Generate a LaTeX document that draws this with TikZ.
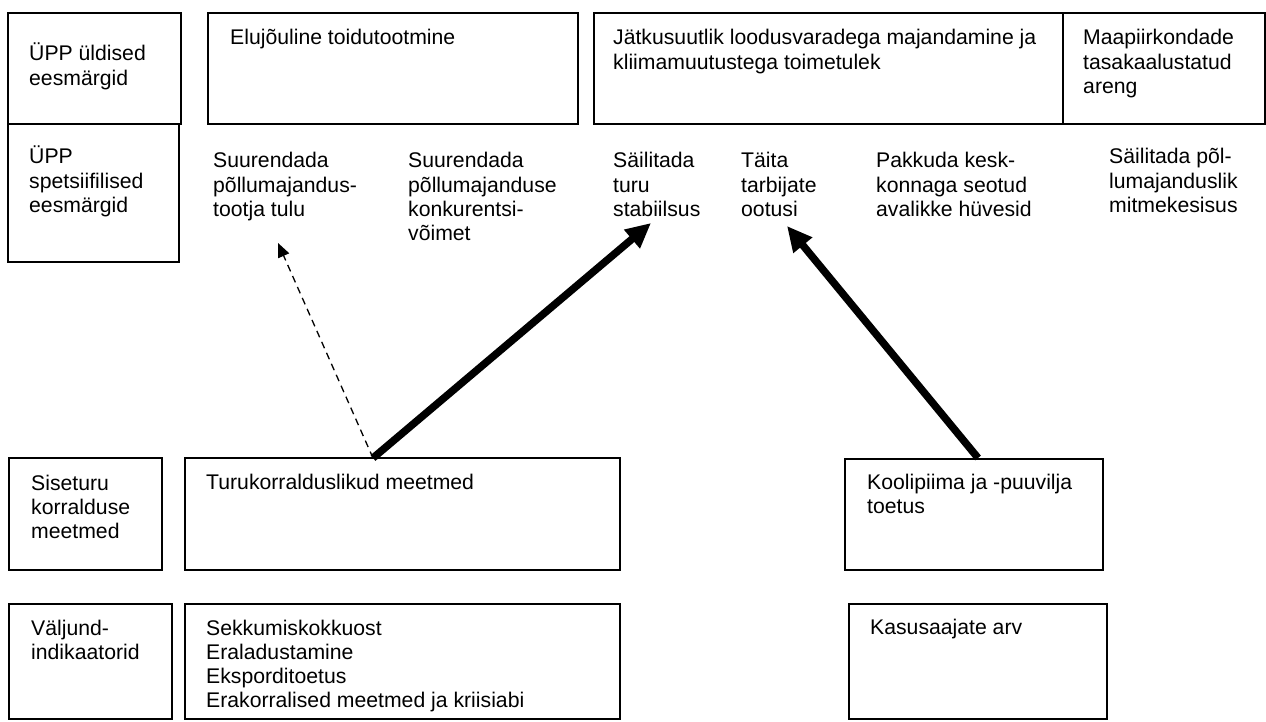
\documentclass[tikz,border=0pt]{standalone}
\usepackage{fontspec}
\setmainfont{Liberation Sans}
\usetikzlibrary{arrows.meta}
\newcommand{\txtlines}[1]{\vtop{\halign{##\hfil\cr#1\crcr}}}
\begin{document}
\begin{tikzpicture}[x=1pt,y=-1pt,
  boxst/.style={draw,line width=1.3pt,inner sep=0pt},
  lbl/.style={anchor=base west,inner sep=0pt,font=\fontsize{21.2}{24.3}\selectfont},
  dasharrow/.style={line width=1.3pt,dash pattern=on 7pt off 5pt,-{Triangle[length=14pt,width=12pt]}},
  thickarrow/.style={line width=7.5pt,-{Triangle[length=25pt,width=23pt]}}]
\useasboundingbox (0,0) rectangle (1266,722);
% boxes
\path[boxst] (8,13) rectangle (181,124) node[pos=0,inner sep=0pt] (A1) {};
\path[boxst] (8,124) rectangle (179,262) node[pos=0,inner sep=0pt] (A2) {};
\path[boxst] (208,13) rectangle (578,124) node[pos=0,inner sep=0pt] (B1) {};
\path[boxst] (594,13) rectangle (1063,124) node[pos=0,inner sep=0pt] (B2) {};
\path[boxst] (1063,13) rectangle (1265,124) node[pos=0,inner sep=0pt] (B3) {};
\path[boxst] (9,458) rectangle (162,570) node[pos=0,inner sep=0pt] (C1) {};
\path[boxst] (185,458) rectangle (620,570) node[pos=0,inner sep=0pt] (C2) {};
\path[boxst] (845,459) rectangle (1103,570) node[pos=0,inner sep=0pt] (C3) {};
\path[boxst] (9,604) rectangle (172,719) node[pos=0,inner sep=0pt] (D1) {};
\path[boxst] (185,604) rectangle (620,719) node[pos=0,inner sep=0pt] (D2) {};
\path[boxst] (849,604) rectangle (1107,719) node[pos=0,inner sep=0pt] (D3) {};
% texts
\node[lbl] (tA1) at (29,61) {\txtlines{ÜPP üldised\cr eesmärgid}};
\node[lbl] (tA2) at (29,164) {\txtlines{ÜPP\cr spetsiifilised\cr eesmärgid}};
\node[lbl] (tB1) at (230,45) {\txtlines{Elujõuline toidutootmine}};
\node[lbl] (tB2) at (613,45) {\txtlines{Jätkusuutlik loodusvaradega majandamine ja\cr kliimamuutustega toimetulek}};
\node[lbl] (tB3) at (1083,45) {\txtlines{Maapiirkondade\cr tasakaalustatud\cr areng}};
\node[lbl] (S1) at (213,168) {\txtlines{Suurendada\cr põllumajandus-\cr tootja tulu}};
\node[lbl] (S2) at (408,168) {\txtlines{Suurendada\cr põllumajanduse\cr konkurentsi-\cr võimet}};
\node[lbl] (S3) at (613,168) {\txtlines{Säilitada\cr turu\cr stabiilsus}};
\node[lbl] (S4) at (741,168) {\txtlines{Täita\cr tarbijate\cr ootusi}};
\node[lbl] (S5) at (876,168) {\txtlines{Pakkuda kesk-\cr konnaga seotud\cr avalikke hüvesid}};
\node[lbl] (S6) at (1109,164) {\txtlines{Säilitada põl-\cr lumajanduslik\cr mitmekesisus}};
\node[lbl] (tC1) at (31,490) {\txtlines{Siseturu\cr korralduse\cr meetmed}};
\node[lbl] (tC2) at (206,489) {\txtlines{Turukorralduslikud meetmed}};
\node[lbl] (tC3) at (867,489) {\txtlines{Koolipiima ja -puuvilja\cr toetus}};
\node[lbl] (tD1) at (31,635) {\txtlines{Väljund-\cr indikaatorid}};
\node[lbl] (tD2) at (206,635) {\txtlines{Sekkumiskokkuost\cr Eraladustamine\cr Eksporditoetus\cr Erakorralised meetmed ja kriisiabi}};
\node[lbl] (tD3) at (870,634) {\txtlines{Kasusaajate arv}};
% connectors
\coordinate (c2top) at (373,458);
\coordinate (c3top) at (978,458);
\coordinate (tipS1) at (278,243);
\coordinate (tipS3) at (651,223);
\coordinate (tipS4) at (787,226);
\draw[dasharrow] (c2top) -- (tipS1);
\draw[thickarrow] (c2top) -- (tipS3);
\draw[thickarrow] (c3top) -- (tipS4);
\end{tikzpicture}
\end{document}
